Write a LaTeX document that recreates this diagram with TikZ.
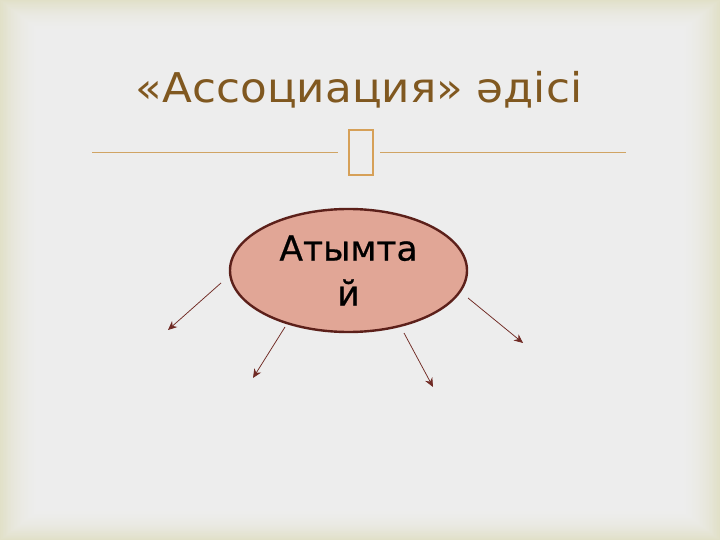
\documentclass[tikz,border=0pt]{standalone}
\usepackage{fontspec}
\setmainfont{DejaVu Sans}
\newfontfamily\widesans[FakeStretch=1.065]{DejaVu Sans}
\newfontfamily\ovalsans[FakeBold=0.6]{DejaVu Sans}
\usepackage{tikz}
\usetikzlibrary{arrows.meta,shapes.geometric}
\usepackage{tkz-euclide}
\definecolor{bgin}{RGB}{237,237,237}
\definecolor{bgedge}{RGB}{225,224,200}
\definecolor{titlebrown}{RGB}{128,88,32}
\definecolor{rulegold}{RGB}{208,164,100}
\definecolor{boxgold}{RGB}{214,160,88}
\definecolor{ovalfill}{RGB}{225,166,150}
\definecolor{ovaldraw}{RGB}{92,32,26}
\definecolor{arrowred}{RGB}{112,42,36}
\tikzset{
  oval/.style={ellipse,draw=ovaldraw,line width=2.4pt,fill=ovalfill,
    minimum width=237pt,minimum height=123pt,inner sep=0pt,align=center,
    font=\ovalsans\fontsize{34.5}{45}\selectfont},
  ray/.style={arrowred,line width=0.75pt,-{Stealth[length=9pt,width=8pt]}}
}
\begin{document}
\begin{tikzpicture}[x=1pt,y=-1pt]
\useasboundingbox(0,0)rectangle(720,540);
\fill[bgedge](0,0)rectangle(720,540);
\foreach \i in {0,...,30}{
  \pgfmathtruncatemacro{\pct}{100*(1-\i/30)^2}
  \fill[bgedge!\pct!bgin](\i*1.4,\i*1.1)rectangle(720-\i*1.4,540-\i*1.1);}
\node[titlebrown,font=\widesans\fontsize{41}{48}\selectfont,anchor=base](title)at(359,103){«Ассоциация» әдісі};
\tkzDefPoints{92/152.5/L1,338/152.5/L2,380/152.5/R1,626/152.5/R2}
\draw[rulegold,line width=1pt](L1)--(L2)(R1)--(R2);
\node[draw=boxgold,line width=2.4pt,minimum width=24pt,minimum height=45pt,inner sep=0pt](glyph)at(361,152.5){};
\node[oval](main)at(348.5,270.5){Атымта\\й};
\tkzDefPoints{221/283/A,168/330/B,285/327/C,253/378/D,404/333/E,433/387/F,468/298/G,523/343/H}
\draw[ray](A)--(B);\draw[ray](C)--(D);
\draw[ray](E)--(F);\draw[ray](G)--(H);
\end{tikzpicture}
\end{document}
